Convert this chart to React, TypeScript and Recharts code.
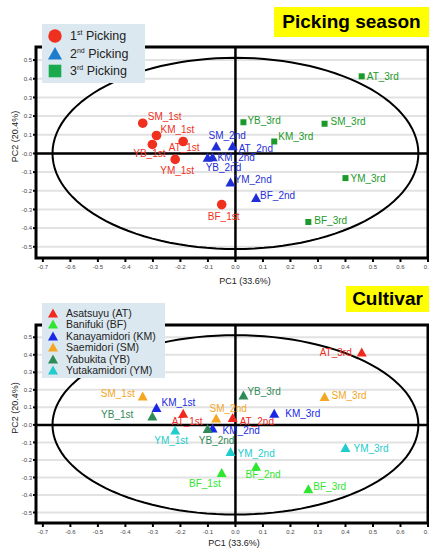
import React from 'react';
import {
  ScatterChart,
  Scatter,
  XAxis,
  YAxis,
  CartesianGrid,
  ReferenceLine,
  ReferenceArea,
} from 'recharts';

// PCA scores (order follows CULTIVARS)
const PICKINGS = ['1st', '2nd', '3rd'];
const CULTIVARS = ['AT', 'BF', 'KM', 'SM', 'YB', 'YM'];
const CULTIVAR_NAMES = [
  'Asatsuyu (AT)',
  'Banifuki (BF)',
  'Kanayamidori (KM)',
  'Saemidori (SM)',
  'Yabukita (YB)',
  'Yutakamidori (YM)',
];
const PC1_1ST = [-0.19, -0.05, -0.287, -0.337, -0.302, -0.219];
const PC2_1ST = [0.064, -0.274, 0.096, 0.162, 0.048, -0.032];
const PC1_2ND = [-0.01, 0.075, -0.083, -0.07, -0.101, -0.018];
const PC2_2ND = [0.039, -0.239, -0.02, 0.037, -0.023, -0.155];
const PC1_3RD = [0.459, 0.265, 0.141, 0.324, 0.029, 0.4];
const PC2_3RD = [0.413, -0.367, 0.064, 0.159, 0.167, -0.132];

const X_TICKS = [-0.7, -0.6, -0.5, -0.4, -0.3, -0.2, -0.1, 0, 0.1, 0.2, 0.3, 0.4, 0.5, 0.6, 0.7];
const Y_TICKS = [-0.5, -0.4, -0.3, -0.2, -0.1, 0, 0.1, 0.2, 0.3, 0.4, 0.5];

// 95% confidence ellipse radii
const ELLIPSE_RX = 0.665;
const ELLIPSE_RY = 0.512;

const X_DOMAIN = [-0.725, 0.7];
const Y_DOMAIN = [-0.56, 0.57];
const FONT = '"Liberation Sans", Arial, sans-serif';

const PC1 = [PC1_1ST, PC1_2ND, PC1_3RD];
const PC2 = [PC2_1ST, PC2_2ND, PC2_3RD];

type Pt = { x: number; y: number; name: string };

const byPicking = (p: number): Pt[] =>
  CULTIVARS.map((c, i) => ({ x: PC1[p][i], y: PC2[p][i], name: `${c}_${PICKINGS[p]}` }));
const byCultivar = (i: number): Pt[] =>
  PICKINGS.map((p, k) => ({ x: PC1[k][i], y: PC2[k][i], name: `${CULTIVARS[i]}_${p}` }));

const ellipse = Array.from({ length: 121 }, (_, k) => {
  const t = (k / 120) * Math.PI * 2;
  return { x: ELLIPSE_RX * Math.cos(t), y: ELLIPSE_RY * Math.sin(t) };
});

type Place = [number, number, 'start' | 'middle' | 'end'];

const TOP_LABELS: Record<string, Place> = {
  SM_1st: [5, -7, 'start'],
  KM_1st: [4, -6, 'start'],
  AT_1st: [1, 6, 'middle'],
  YB_1st: [-3, 9, 'middle'],
  YM_1st: [2, 11, 'middle'],
  BF_1st: [2, 12, 'middle'],
  SM_2nd: [11, -11, 'middle'],
  AT_2nd: [6, 2, 'start'],
  KM_2nd: [5, 0, 'start'],
  YB_2nd: [-2, 10, 'start'],
  YM_2nd: [4, -3, 'start'],
  BF_2nd: [4, -3, 'start'],
  YB_3rd: [4, -2, 'start'],
  KM_3rd: [4, -5, 'start'],
  AT_3rd: [5, 0, 'start'],
  SM_3rd: [6, -2, 'start'],
  YM_3rd: [5, 0, 'start'],
  BF_3rd: [6, -2, 'start'],
};

const BOTTOM_LABELS: Record<string, Place> = {
  SM_1st: [-8, -3, 'end'],
  KM_1st: [5, -6, 'start'],
  YB_1st: [-19, -2, 'end'],
  AT_1st: [4, 8, 'middle'],
  YM_1st: [-4, 10, 'middle'],
  BF_1st: [-1, 11, 'end'],
  YB_2nd: [9, 11, 'middle'],
  KM_2nd: [10, 2, 'start'],
  SM_2nd: [12, -10, 'middle'],
  AT_2nd: [7, 3, 'start'],
  YM_2nd: [7, 1, 'start'],
  BF_2nd: [7, 8, 'middle'],
  YB_3rd: [4, -4, 'start'],
  KM_3rd: [11, 0, 'start'],
  AT_3rd: [-10, 0, 'end'],
  SM_3rd: [7, -2, 'start'],
  YM_3rd: [8, 0, 'start'],
  BF_3rd: [5, -3, 'start'],
};

const PICK_COLORS = ['#f0301e', '#1f2fd8', '#1a9a2a'];
const PICK_LEGEND = ['#f0301e', '#1e7ccf', '#1aaa4e'];
const CULT_COLORS = ['#f02a1e', '#2ee62e', '#1a28e6', '#f5a623', '#2e8b57', '#22cccc'];

type Kind = 'circle' | 'triangle' | 'square';

function Marker({ kind, cx, cy, color, s = 1 }: { kind: Kind; cx: number; cy: number; color: string; s?: number }) {
  if (kind === 'circle') return <circle cx={cx} cy={cy} r={4.8 * s} fill={color} />;
  if (kind === 'square') return <rect x={cx - 3 * s} y={cy - 3 * s} width={6 * s} height={6 * s} fill={color} />;
  return (
    <polygon
      points={`${cx},${cy - 5 * s} ${cx - 5 * s},${cy + 4 * s} ${cx + 5 * s},${cy + 4 * s}`}
      fill={color}
    />
  );
}

const pointShape = (kind: Kind, color: string, labels: Record<string, Place>) => (props: any) => {
  const { cx, cy, payload } = props;
  const [dx, dy, anchor] = labels[payload.name] || [5, 0, 'start'];
  return (
    <g>
      <Marker kind={kind} cx={cx} cy={cy} color={color} />
      <text
        x={cx + dx}
        y={cy + dy + 3.6}
        textAnchor={anchor}
        fontSize={10}
        fontFamily={FONT}
        fill={color}
      >
        {payload.name}
      </text>
    </g>
  );
};

const fmtX = (v: number) => v.toFixed(1);
const fmtY = (v: number) => (v === 0 ? '-0.0' : v.toFixed(1));

function PcaPanel({
  height,
  marginTop,
  marginBottom,
  xLabelShift,
  xLabelDrop,
  children,
}: {
  height: number;
  marginTop: number;
  marginBottom: number;
  xLabelShift: number;
  xLabelDrop: number;
  children: React.ReactNode;
}) {
  return (
    <ScatterChart
      width={429}
      height={height}
      margin={{ top: marginTop, right: 1, bottom: marginBottom, left: 12 }}
      style={{ fontFamily: FONT }}
    >
      <CartesianGrid vertical={false} stroke="#e2e2e2" strokeWidth={2} />
      <XAxis
        type="number"
        dataKey="x"
        domain={X_DOMAIN}
        ticks={X_TICKS}
        allowDataOverflow
        tickFormatter={fmtX}
        tick={{ fontSize: 6, fill: '#444' }}
        tickSize={4}
        tickMargin={3}
        stroke="#000"
        strokeWidth={2}
        height={16}
        interval={0}
        label={{
          content: (p: any) => {
            const vb = p.viewBox;
            return (
              <text
                x={vb.x + vb.width / 2 + xLabelShift}
                y={vb.y + xLabelDrop}
                textAnchor="middle"
                fontSize={9}
                fontFamily={FONT}
                fill="#222"
              >
                PC1 (33.6%)
              </text>
            );
          },
        }}
      />
      <YAxis
        type="number"
        dataKey="y"
        domain={Y_DOMAIN}
        ticks={Y_TICKS}
        allowDataOverflow
        tickFormatter={fmtY}
        tick={{ fontSize: 6, fill: '#444' }}
        tickSize={3}
        tickMargin={1}
        stroke="#000"
        strokeWidth={2}
        width={24}
        interval={0}
        label={{
          content: (p: any) => {
            const vb = p.viewBox;
            const cy = vb.y + vb.height / 2 - 16;
            return (
              <text
                x={18}
                y={cy}
                transform={`rotate(-90, 18, ${cy})`}
                textAnchor="middle"
                fontSize={9}
                fontFamily={FONT}
                fill="#222"
              >
                PC2 (20.4%)
              </text>
            );
          },
        }}
      />
      <Scatter
        data={ellipse}
        line={{ stroke: '#000', strokeWidth: 2 }}
        lineType="joint"
        shape={() => <g />}
        isAnimationActive={false}
      />
      <ReferenceLine x={0} stroke="#000" strokeWidth={2.5} />
      <ReferenceLine y={0} stroke="#000" strokeWidth={2.5} />
      {children}
      <ReferenceArea
        x1={X_DOMAIN[0]}
        x2={X_DOMAIN[1]}
        y1={Y_DOMAIN[0]}
        y2={Y_DOMAIN[1]}
        fill="none"
        fillOpacity={0}
        stroke="#000"
        strokeWidth={3}
        ifOverflow="visible"
      />
    </ScatterChart>
  );
}

const legendBox: React.CSSProperties = {
  position: 'absolute',
  background: '#dce8f0',
  fontFamily: FONT,
  color: '#222',
};

const titleBox: React.CSSProperties = {
  position: 'absolute',
  background: '#ffff00',
  fontFamily: FONT,
  fontWeight: 'bold',
  fontSize: 19,
  color: '#000',
  display: 'flex',
  alignItems: 'center',
  justifyContent: 'center',
};

const KINDS: Kind[] = ['circle', 'triangle', 'square'];

export default function App() {
  return (
    <div style={{ position: 'absolute', left: 0, top: 0, width: 429, height: 549, overflow: 'hidden', background: '#fff' }}>
      <div style={{ position: 'absolute', left: 0, top: 0 }}>
        <PcaPanel height={290} marginTop={47} marginBottom={16} xLabelShift={13} xLabelDrop={26}>
          {PICKINGS.map((p, k) => (
            <Scatter
              key={p}
              data={byPicking(k)}
              shape={pointShape(KINDS[k], PICK_COLORS[k], TOP_LABELS)}
              isAnimationActive={false}
            />
          ))}
        </PcaPanel>
      </div>
      <div style={{ position: 'absolute', left: 0, top: 280 }}>
        <PcaPanel height={269} marginTop={45} marginBottom={10} xLabelShift={2} xLabelDrop={23}>
          {CULTIVARS.map((c, i) => (
            <Scatter
              key={c}
              data={byCultivar(i)}
              shape={pointShape('triangle', CULT_COLORS[i], BOTTOM_LABELS)}
              isAnimationActive={false}
            />
          ))}
        </PcaPanel>
      </div>

      <div style={{ ...titleBox, left: 274, top: 7, width: 155, height: 30 }}>Picking season</div>
      <div style={{ ...titleBox, left: 346, top: 286, width: 83, height: 26 }}>Cultivar</div>

      <div style={{ ...legendBox, left: 42, top: 24, width: 103, height: 59 }}>
        {PICKINGS.map((p, k) => (
          <div key={p} style={{ position: 'absolute', left: 0, top: 3 + k * 17.5, height: 18, width: 103 }}>
            <svg width={26} height={18} style={{ position: 'absolute', left: 0, top: 0 }}>
              <Marker kind={KINDS[k]} cx={13} cy={9} color={PICK_LEGEND[k]} s={k === 1 ? 1.4 : k === 2 ? 2.1 : 1.4} />
            </svg>
            <div style={{ position: 'absolute', left: 28, top: 1, fontSize: 12.5, whiteSpace: 'nowrap', lineHeight: '16px' }}>
              {p.slice(0, 1)}
              <sup style={{ fontSize: 7, verticalAlign: 'top', lineHeight: '10px' }}>{p.slice(1)}</sup> Picking
            </div>
          </div>
        ))}
      </div>

      <div style={{ ...legendBox, left: 42, top: 303, width: 123, height: 75 }}>
        {CULTIVAR_NAMES.map((n, i) => (
          <div key={n} style={{ position: 'absolute', left: 0, top: 4 + i * 11.4, height: 12, width: 123 }}>
            <svg width={20} height={12} style={{ position: 'absolute', left: 0, top: 0 }}>
              <Marker kind="triangle" cx={11} cy={6.5} color={CULT_COLORS[i]} />
            </svg>
            <div style={{ position: 'absolute', left: 24, top: 0, fontSize: 10.5, whiteSpace: 'nowrap', lineHeight: '12px' }}>
              {n}
            </div>
          </div>
        ))}
      </div>
    </div>
  );
}
